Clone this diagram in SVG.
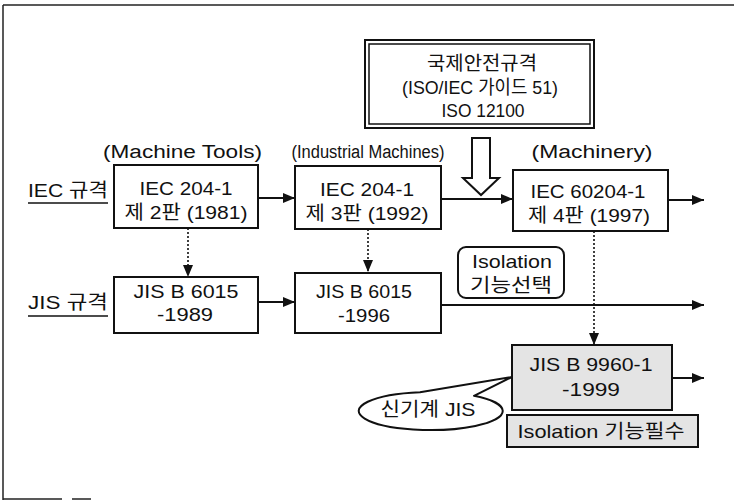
<svg xmlns="http://www.w3.org/2000/svg" width="734" height="501" viewBox="0 0 734 501">
<defs>
<style>
text{font-family:"Liberation Sans","Noto Sans CJK KR",sans-serif;fill:#111;}
.t{font-size:19px;text-anchor:middle;}
.lbl{font-size:18px;text-anchor:middle;}
.box{fill:#fff;stroke:#111;stroke-width:2;}
.gray{fill:#e4e4e4;stroke:#111;stroke-width:2;}
.ln{fill:none;stroke:#111;stroke-width:2;}
.dot{fill:none;stroke:#111;stroke-width:1.6;stroke-dasharray:2 2;}
.frame{fill:none;stroke:#222;stroke-width:1.5;}
</style>
<marker id="ah" viewBox="0 0 12 10" refX="12" refY="5" markerWidth="12" markerHeight="10" markerUnits="userSpaceOnUse" orient="auto">
<path d="M0,0 L12,5 L0,10 Z" fill="#111"/>
</marker>
</defs>
<rect width="734" height="501" fill="#fff"/>

<g id="frame">
<line class="frame" x1="3" y1="5" x2="734" y2="5"/>
<line class="frame" x1="3" y1="5" x2="3" y2="500"/>
<line class="frame" x1="3" y1="499" x2="62" y2="499"/>
<line class="frame" x1="72" y1="499" x2="91" y2="499"/>
</g>

<g id="labels">
<text class="lbl" x="182.5" y="158" textLength="159" lengthAdjust="spacingAndGlyphs">(Machine Tools)</text>
<text class="lbl" x="368" y="158" font-size="17" textLength="153" lengthAdjust="spacingAndGlyphs">(Industrial Machines)</text>
<text class="lbl" x="592" y="158" textLength="121" lengthAdjust="spacingAndGlyphs">(Machinery)</text>
</g>

<g id="row-iec">
<text x="28" y="197" font-size="19" textLength="80" lengthAdjust="spacingAndGlyphs">IEC 규격</text>
<line x1="28" y1="203" x2="108" y2="203" stroke="#111" stroke-width="1.5"/>
</g>
<g id="row-jis">
<text x="28" y="309" font-size="19" textLength="80" lengthAdjust="spacingAndGlyphs">JIS 규격</text>
<line x1="28" y1="316" x2="108" y2="316" stroke="#111" stroke-width="1.5"/>
</g>

<g id="iso">
<rect x="365" y="40" width="229" height="88" fill="#fff" stroke="#111" stroke-width="2"/>
<rect x="369" y="44" width="221" height="80" fill="none" stroke="#111" stroke-width="1.5"/>
<text class="t" x="482" y="70" font-size="17" textLength="110" lengthAdjust="spacingAndGlyphs">국제안전규격</text>
<text class="t" x="480" y="94" font-size="17" textLength="156" lengthAdjust="spacingAndGlyphs">(ISO/IEC 가이드 51)</text>
<text class="t" x="483" y="117" font-size="17" textLength="83" lengthAdjust="spacingAndGlyphs">ISO 12100</text>
</g>

<g id="iec-1981">
<rect class="box" x="114" y="165" width="144" height="63"/>
<text class="t" x="186" y="195" textLength="93" lengthAdjust="spacingAndGlyphs">IEC 204-1</text>
<text class="t" x="186" y="219" textLength="123" lengthAdjust="spacingAndGlyphs">제 2판 (1981)</text>
</g>
<g id="iec-1992">
<rect class="box" x="295" y="166" width="146" height="63"/>
<text class="t" x="367" y="196" textLength="94" lengthAdjust="spacingAndGlyphs">IEC 204-1</text>
<text class="t" x="367" y="220" textLength="123" lengthAdjust="spacingAndGlyphs">제 3판 (1992)</text>
</g>
<g id="iec-1997">
<rect class="box" x="513" y="170" width="155" height="61"/>
<text class="t" x="588" y="198" textLength="115" lengthAdjust="spacingAndGlyphs">IEC 60204-1</text>
<text class="t" x="589" y="222" textLength="122" lengthAdjust="spacingAndGlyphs">제 4판 (1997)</text>
</g>
<g id="jis-1989">
<rect class="box" x="114" y="277" width="144" height="56"/>
<text class="t" x="186" y="298" textLength="105" lengthAdjust="spacingAndGlyphs">JIS B 6015</text>
<text class="t" x="185" y="321" textLength="56" lengthAdjust="spacingAndGlyphs">-1989</text>
</g>
<g id="jis-1996">
<rect class="box" x="295" y="273" width="146" height="60"/>
<text class="t" x="364" y="298" textLength="96" lengthAdjust="spacingAndGlyphs">JIS B 6015</text>
<text class="t" x="364" y="322" textLength="52" lengthAdjust="spacingAndGlyphs">-1996</text>
</g>
<g id="isolation-select">
<rect x="458" y="247" width="106" height="51" rx="8" fill="#fff" stroke="#111" stroke-width="2"/>
<text class="t" x="512" y="268" textLength="80" lengthAdjust="spacingAndGlyphs">Isolation</text>
<text class="t" x="511" y="292" textLength="82" lengthAdjust="spacingAndGlyphs">기능선택</text>
</g>
<g id="jis-1999">
<rect class="gray" x="512" y="345" width="160" height="65"/>
<text class="t" x="591" y="371" textLength="123" lengthAdjust="spacingAndGlyphs">JIS B 9960-1</text>
<text class="t" x="591" y="396" textLength="58" lengthAdjust="spacingAndGlyphs">-1999</text>
</g>
<g id="isolation-required">
<rect class="gray" x="507" y="415" width="191" height="32"/>
<text class="t" x="601" y="438" textLength="167" lengthAdjust="spacingAndGlyphs">Isolation 기능필수</text>
</g>
<g id="new-jis">
<path d="M420,392.2 L512,377 L474,395.8 A72,19 0 1 1 420,392.2 Z" fill="#fff" stroke="#111" stroke-width="2" stroke-linejoin="round"/>
<text class="t" x="428" y="416" textLength="95" lengthAdjust="spacingAndGlyphs">신기계 JIS</text>
</g>

<g id="connectors">
<line class="ln" x1="258" y1="198" x2="295" y2="198" marker-end="url(#ah)"/>
<line class="ln" x1="441" y1="199" x2="513" y2="199" marker-end="url(#ah)"/>
<line class="ln" x1="668" y1="200" x2="704" y2="200" marker-end="url(#ah)"/>
<line class="ln" x1="258" y1="302" x2="295" y2="302" marker-end="url(#ah)"/>
<line class="ln" x1="441" y1="305" x2="704" y2="305" marker-end="url(#ah)"/>
<line class="ln" x1="672" y1="378" x2="704" y2="378" marker-end="url(#ah)"/>
<line class="dot" x1="188" y1="228" x2="188" y2="277" marker-end="url(#ah)"/>
<line class="dot" x1="368" y1="229" x2="368" y2="272" marker-end="url(#ah)"/>
<line class="dot" x1="594" y1="231" x2="594" y2="345" marker-end="url(#ah)"/>
<polygon points="472,138 490,138 490,178 499,178 481,195 463,178 472,178" fill="#fff" stroke="#111" stroke-width="2" stroke-linejoin="miter"/>
</g>
</svg>
